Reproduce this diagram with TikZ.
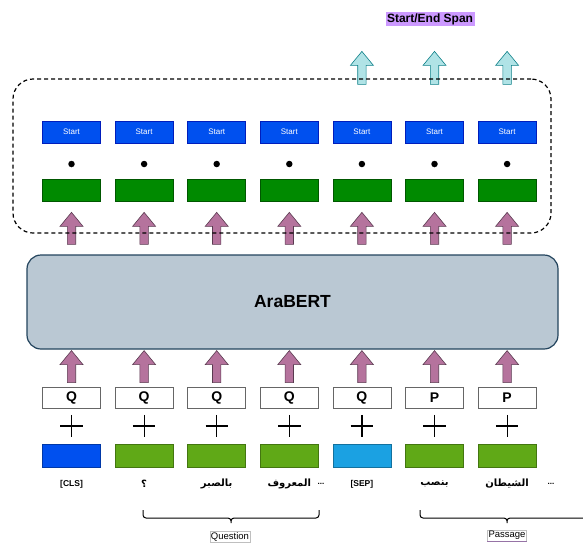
\documentclass[tikz,border=0pt]{standalone}
\usepackage{fontspec}
\setmainfont{Liberation Sans}
\newfontfamily\arabicfont[Script=Arabic]{DejaVu Sans}
\TeXXeTstate=1
\usetikzlibrary{calc}
\pgfdeclarelayer{background}
\pgfsetlayers{background,main}

\definecolor{startFill}{HTML}{0050EF}
\definecolor{startLine}{HTML}{001DBC}
\definecolor{vecFill}{HTML}{008A00}
\definecolor{vecLine}{HTML}{005700}
\definecolor{embGreen}{HTML}{60A917}
\definecolor{embBlue}{HTML}{0050EF}
\definecolor{embSky}{HTML}{1BA1E2}
\definecolor{bertFill}{HTML}{BAC8D3}
\definecolor{bertLine}{HTML}{23445D}
\definecolor{pinkFill}{HTML}{B5739D}
\definecolor{pinkLine}{HTML}{5A3A50}
\definecolor{cyanFill}{HTML}{B0E3E6}
\definecolor{cyanLine}{HTML}{0E8088}
\definecolor{spanBg}{HTML}{CC99FF}
\definecolor{tagLine}{HTML}{9673A6}

\tikzset{
  cell/.style={minimum width=58pt, minimum height=22pt, inner sep=0pt, line width=0.7pt},
  startbox/.style={cell, fill=startFill, draw=startLine, text=white, font=\fontsize{8}{9}\selectfont},
  vecbox/.style={cell, fill=vecFill, draw=vecLine},
  typebox/.style={cell, minimum height=21pt, fill=white, draw=black!60, font=\bfseries\fontsize{14}{16}\selectfont},
  embbox/.style={cell, minimum height=23pt},
  dotmark/.style={circle, fill=black, inner sep=0pt, minimum size=6.5pt},
  plusmark/.style={inner sep=0pt, minimum size=22pt},
  tokenlabel/.style={inner sep=1pt, font=\fontsize{8.5}{10}\selectfont},
  arabiclabel/.style={inner sep=1pt, font=\arabicfont\bfseries\fontsize{10}{12}\selectfont},
  blockup/.style={to path={let \p1=(\tikztostart), \p2=(\tikztotarget) in
    (\x1-4.2pt,\y1) -- (\x1-4.2pt,\y2-14pt) -- (\x1-11.5pt,\y2-14pt) -- (\x1,\y2)
    -- (\x1+11.5pt,\y2-14pt) -- (\x1+4.2pt,\y2-14pt) -- (\x1+4.2pt,\y1) -- cycle}},
  pinkarrow/.style={blockup, fill=pinkFill, draw=pinkLine, line width=0.6pt},
  cyanarrow/.style={blockup, fill=cyanFill, draw=cyanLine, line width=0.6pt},
  headframe/.style={draw, dash pattern=on 4pt off 3pt, line width=1.2pt, rounded corners=20pt,
    minimum width=538pt, minimum height=154pt},
  encoder/.style={draw=bertLine, fill=bertFill, line width=1.2pt, rounded corners=14pt,
    minimum width=531pt, minimum height=94pt, font=\bfseries\fontsize{17.5}{20}\selectfont},
  curly/.style={line width=1pt, rounded corners=3pt, to path={let \p1=(\tikztostart), \p2=(\tikztotarget) in
    (\p1) -- (\x1,\y1-8pt) -- ({(\x1+\x2)/2},\y1-8pt) -- ({(\x1+\x2)/2},\y1-13pt)
    (\p2) -- (\x2,\y2-8pt) -- ({(\x1+\x2)/2},\y2-8pt) -- ({(\x1+\x2)/2},\y2-13pt)}},
  tag/.style={draw=black!25, line width=0.4pt, inner sep=1pt, font=\fontsize{9.5}{11}\selectfont},
}

\begin{document}
\begin{tikzpicture}[x=1pt, y=-1pt]
\useasboundingbox (0,0) rectangle (583,544);

% title
\node[fill=spanBg, inner sep=1.5pt, font=\bfseries\fontsize{12}{14}\selectfont] (span) at (430,19) {Start/End Span};

% encoder block
\node[encoder] (bert) at (292.5,302) {AraBERT};

% token columns
\foreach \i/\typ/\emb/\sty/\lab in {
  1/Q/embBlue/tokenlabel/{\bfseries [CLS]},
  2/Q/embGreen/arabiclabel/{\beginR ؟\endR},
  3/Q/embGreen/arabiclabel/{\beginR بالصبر\endR},
  4/Q/embGreen/arabiclabel/{\beginR المعروف\endR},
  5/Q/embSky/tokenlabel/{\bfseries [SEP]},
  6/P/embGreen/arabiclabel/{\beginR بنصب\endR},
  7/P/embGreen/arabiclabel/{\beginR الشيطان\endR}} {
  \pgfmathsetmacro{\cx}{71.5+72.6*(\i-1)}
  \node[startbox] (s\i) at (\cx,132) {Start};
  \node[dotmark] (d\i) at (\cx,164) {};
  \node[vecbox] (g\i) at (\cx,190) {};
  \node[typebox] (q\i) at (\cx,397.5) {\typ};
  \node[plusmark] (p\i) at (\cx,426) {};
  \draw[line width=1.2pt] (p\i.west) -- (p\i.east) (p\i.north) -- (p\i.south);
  \node[embbox, fill=\emb, draw=\emb!70!black] (e\i) at (\cx,455.5) {};
  \node[\sty] (t\i) at (\cx,484) {\lab};
  \begin{pgfonlayer}{background}
    \draw[pinkarrow] ($(q\i.north)+(0,-4)$) to ($(bert.south -| q\i.north)+(0,1)$);
    \draw[pinkarrow] ($(bert.north -| g\i.south)+(0,-10)$) to ($(g\i.south)+(0,11)$);
  \end{pgfonlayer}
}
\node[tokenlabel, font=\bfseries\fontsize{8}{10}\selectfont] (more1) at (321,484) {...};
\node[tokenlabel, font=\bfseries\fontsize{8}{10}\selectfont] (more2) at (551,484) {...};

% output head frame
\node[headframe] (head) at (282,156) {};
\begin{pgfonlayer}{background}
  \foreach \i in {5,6,7}
    \draw[cyanarrow] ($(head.north -| s\i.north)+(0,6)$) to ($(head.north -| s\i.north)+(0,-27)$);
\end{pgfonlayer}

% segment braces
\coordinate (qa) at (143,510);
\coordinate (qb) at (319,510);
\coordinate (pa) at (420,510);
\coordinate (pb) at (594,510);
\draw[curly] (qa) to (qb);
\draw[curly] (pa) to (pb);
\node[tag] (qtag) at (230,537) {Question};
\node[tag] (ptag) at (507,535.5) {Passage};
\draw[tagLine, line width=0.8pt] (ptag.south west) -- (ptag.south east);
\end{tikzpicture}
\end{document}
